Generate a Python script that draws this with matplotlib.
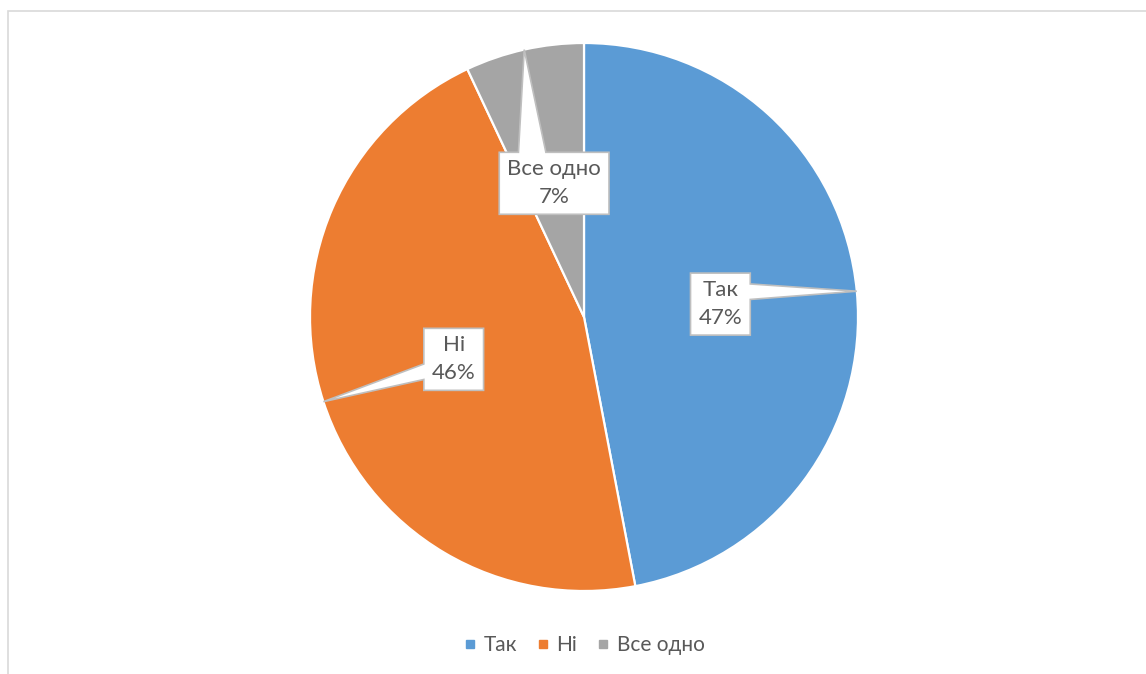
"""
Pie chart of survey answers with Excel-style data callouts
"""

import numpy as np
import matplotlib.pyplot as plt
from matplotlib.patches import Polygon, Rectangle
from matplotlib.lines import Line2D

# Survey answers
labels = ["Так", "Ні", "Все одно"]
shares = [47, 46, 7]
colors = ["#5B9BD5", "#ED7D31", "#A5A5A5"]

TEXT_COLOR = "#595959"
CALLOUT_EDGE = "#BFBFBF"
FONT = ["Lato", "DejaVu Sans"]

W, H, DPI = 1146, 674, 100
CX, CY, R = 584, 317, 274  # pie centre and radius in pixels

plt.rcParams["font.family"] = FONT

fig = plt.figure(figsize=(W / DPI, H / DPI), dpi=DPI)
ax = fig.add_axes([(CX - R) / W, (H - CY - R) / H, 2 * R / W, 2 * R / H])

# thin frame round the chart area
fig.patches.append(Rectangle((7.5 / W, -0.1), 1.2, 1 - 11 / H + 0.1,
                             transform=fig.transFigure, fill=False,
                             edgecolor="#D9D9D9", linewidth=1.2))

wedges, _ = ax.pie(shares, colors=colors, startangle=90, counterclock=False,
                   radius=1, wedgeprops=dict(edgecolor="white", linewidth=1.6))
ax.set_xlim(-1, 1)
ax.set_ylim(-1, 1)
ax.set_aspect("equal")
ax.axis("off")

px = 1.0 / R  # one pixel in data units
fig.canvas.draw()
renderer = fig.canvas.get_renderer()


def callout(theta1, theta2, text):
    mid = np.deg2rad((theta1 + theta2) / 2)
    tip = np.array([np.cos(mid), np.sin(mid)])
    centre = 0.5 * tip
    t = ax.text(centre[0], centre[1], text, ha="center", va="center",
                fontsize=16, color=TEXT_COLOR, linespacing=1.5, zorder=5,
                multialignment="center")
    bb = t.get_window_extent(renderer)
    hw = bb.width / 2 * px + 8 * px
    hh = bb.height / 2 * px + 7 * px
    x0, x1 = centre[0] - hw, centre[0] + hw
    y0, y1 = centre[1] - hh, centre[1] + hh
    d = tip - centre
    if abs(d[0]) / hw > abs(d[1]) / hh:
        # pointer on a vertical edge
        m = np.clip(tip[1], y0 + 0.3 * 2 * hh, y1 - 0.3 * 2 * hh)
        b = 0.25 * hh
        if d[0] > 0:
            pts = [(x0, y1), (x1, y1), (x1, m + b), tuple(tip), (x1, m - b),
                   (x1, y0), (x0, y0)]
        else:
            pts = [(x0, y1), (x1, y1), (x1, y0), (x0, y0), (x0, m - b),
                   tuple(tip), (x0, m + b)]
    else:
        # pointer on a horizontal edge
        m = np.clip(tip[0], x0 + 0.3 * 2 * hw, x1 - 0.3 * 2 * hw)
        b = 0.25 * hw
        if d[1] > 0:
            pts = [(x0, y1), (m - b, y1), tuple(tip), (m + b, y1), (x1, y1),
                   (x1, y0), (x0, y0)]
        else:
            pts = [(x0, y1), (x1, y1), (x1, y0), (m + b, y0), tuple(tip),
                   (m - b, y0), (x0, y0)]
    ax.add_patch(Polygon(pts, closed=True, facecolor="white",
                         edgecolor=CALLOUT_EDGE, linewidth=1.2, zorder=4,
                         joinstyle="miter"))


for w, lab, s in zip(wedges, labels, shares):
    callout(w.theta1, w.theta2, f"{lab}\n{s}%")

handles = [Line2D([], [], marker="s", linestyle="none", markersize=6,
                  markerfacecolor=c, markeredgecolor=c) for c in colors]
fig.legend(handles, labels, loc="center", bbox_to_anchor=(584 / W, 1 - 645 / H),
           ncol=3, frameon=False, fontsize=15, labelcolor=TEXT_COLOR,
           handlelength=0.6, handletextpad=0.35, columnspacing=0.95)

fig.savefig("out.png", dpi=DPI)
